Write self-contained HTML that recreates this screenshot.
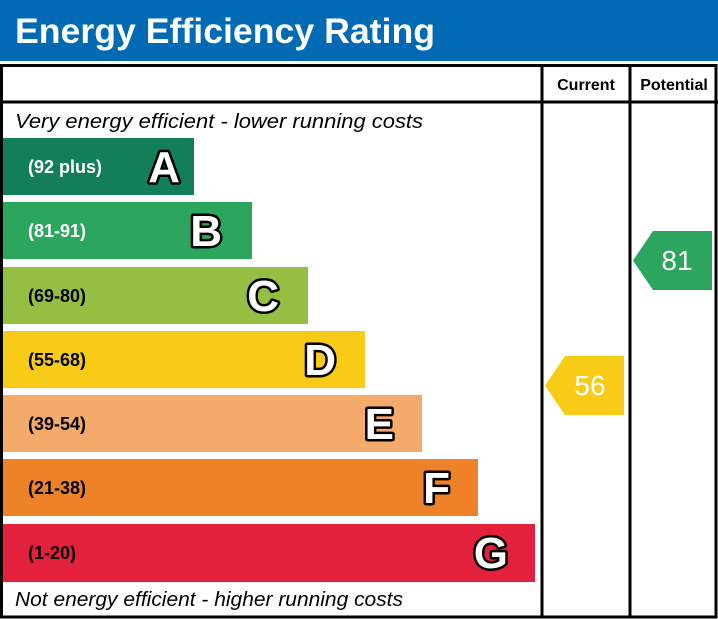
<!DOCTYPE html>
<html><head><meta charset="utf-8"><style>
html,body{margin:0;padding:0;background:#fff;}
svg{display:block;font-family:"Liberation Sans",Arial,sans-serif;}
.s{font-weight:bold;font-size:44px;fill:#000;stroke:#000;stroke-width:5;stroke-linejoin:round;}
.w{font-weight:bold;font-size:44px;fill:#fff;}
.r{font-weight:bold;font-size:18px;}
</style></head><body>
<svg width="718" height="619" viewBox="0 0 718 619">
<rect x="0" y="0" width="718" height="61" fill="#006bb4"/>
<text x="15" y="43" font-size="35" font-weight="bold" fill="#fff" textLength="420" lengthAdjust="spacingAndGlyphs">Energy Efficiency Rating</text>
<rect x="1.5" y="65.5" width="714.5" height="551.5" fill="none" stroke="#000" stroke-width="3"/>
<line x1="0" y1="102" x2="718" y2="102" stroke="#000" stroke-width="3"/>
<line x1="542" y1="65" x2="542" y2="618" stroke="#000" stroke-width="3"/>
<line x1="630" y1="65" x2="630" y2="618" stroke="#000" stroke-width="3"/>
<text x="586" y="90" font-size="16" font-weight="bold" text-anchor="middle">Current</text>
<text x="674" y="90" font-size="16" font-weight="bold" text-anchor="middle">Potential</text>
<text x="15" y="128" font-size="20" font-style="italic" textLength="408" lengthAdjust="spacingAndGlyphs">Very energy efficient - lower running costs</text>
<text x="15" y="606" font-size="20" font-style="italic" textLength="388" lengthAdjust="spacingAndGlyphs">Not energy efficient - higher running costs</text>
<rect x="3" y="138" width="191" height="57" fill="#127f58"/>
<rect x="3" y="202" width="249" height="57" fill="#2ca55e"/>
<rect x="3" y="267" width="305" height="57" fill="#94bf43"/>
<rect x="3" y="331" width="362" height="57" fill="#f8cc16"/>
<rect x="3" y="395" width="419" height="57" fill="#f3aa6b"/>
<rect x="3" y="459" width="475" height="57" fill="#ee8228"/>
<rect x="3" y="524" width="532" height="58" fill="#e3213c"/>
<text class="r" x="28" y="173" fill="#fff">(92 plus)</text>
<text class="r" x="28" y="237" fill="#fff">(81-91)</text>
<text class="r" x="28" y="302">(69-80)</text>
<text class="r" x="28" y="366">(55-68)</text>
<text class="r" x="28" y="430">(39-54)</text>
<text class="r" x="28" y="494">(21-38)</text>
<text class="r" x="28" y="559">(1-20)</text>
<g class="s" text-anchor="end">
<text x="180" y="182">A</text>
<text x="222" y="246">B</text>
<text x="279" y="311">C</text>
<text x="336" y="375">D</text>
<text x="394" y="439">E</text>
<text x="450" y="503">F</text>
<text x="508" y="568">G</text>
</g>
<g class="w" text-anchor="end">
<text x="180" y="182">A</text>
<text x="222" y="246">B</text>
<text x="279" y="311">C</text>
<text x="336" y="375">D</text>
<text x="394" y="439">E</text>
<text x="450" y="503">F</text>
<text x="508" y="568">G</text>
</g>
<polygon points="633,260.5 653,231 712,231 712,290 653,290" fill="#2ca55e"/>
<text x="677" y="270" font-size="28" fill="#fff" text-anchor="middle">81</text>
<polygon points="545,385.5 565,356 624,356 624,415 565,415" fill="#f8cc16"/>
<text x="590" y="395" font-size="28" fill="#fff" text-anchor="middle">56</text>
</svg>
</body></html>
